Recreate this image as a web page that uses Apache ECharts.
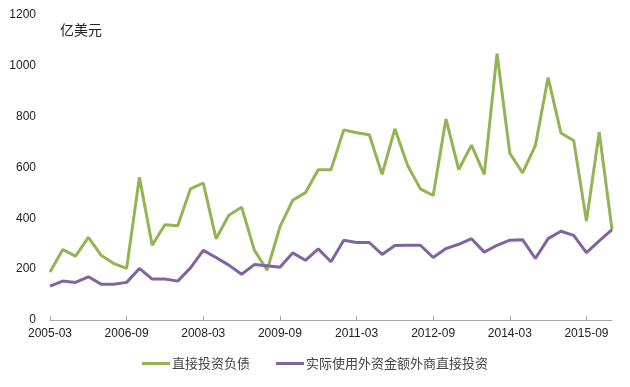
<!DOCTYPE html>
<html>
<head>
<meta charset="utf-8">
<script src="https://cdn.jsdelivr.net/npm/echarts@6/dist/echarts.min.js"></script>
<style>html,body{margin:0;padding:0;background:#fff}#c{width:630px;height:387px}</style>
</head>
<body>
<div id="c"></div>
<script>
var categories = (function(){var a=[];for(var y=2005;y<=2016;y++){for(var m of ['03','06','09','12']){a.push(y+'-'+m);}}return a.slice(0,45);})();
var fdiLiabilities = [189,277,251,325,255,222,203,562,294,375,371,516,539,320,412,444,275,196,366,471,501,591,591,748,737,729,573,752,608,516,490,791,592,688,573,1048,656,579,686,954,736,706,389,739,356];
var actualFdi = [133,153,148,170,141,141,148,203,161,161,153,205,274,246,216,180,218,213,208,264,235,280,229,314,305,305,258,293,294,294,246,281,298,320,267,294,314,316,242,320,349,333,265,311,356];
var yTicks = [0,200,400,600,800,1000,1200];
var seriesNames = ['直接投资负债','实际使用外资金额外商直接投资'];
var unitLabel = '亿美元';

var chart = echarts.init(document.getElementById('c'), null, {renderer:'canvas'});
chart.setOption({
  animation:false,
  backgroundColor:'#fff',
  textStyle:{fontFamily:'"Liberation Sans","Noto Sans CJK SC",sans-serif'},
  grid:{left:50,right:18,top:15,bottom:67,containLabel:false},
  graphic:[{type:'text',left:60,top:23,style:{text:unitLabel,fontSize:14,fill:'#222',fontFamily:'"Noto Sans CJK SC",sans-serif'}}],
  legend:{
    bottom:12,left:'center',itemWidth:28,itemHeight:3,itemGap:26,icon:'rect',
    textStyle:{fontSize:13,color:'#444',fontFamily:'"Noto Sans CJK SC",sans-serif',padding:[0,0,0,-3]},
    data:seriesNames
  },
  xAxis:{
    type:'category',data:categories,boundaryGap:false,
    axisLine:{lineStyle:{color:'#A6A6A6',width:1}},
    axisTick:{inside:true,length:4,interval:5,lineStyle:{color:'#A6A6A6'}},
    axisLabel:{interval:5,color:'#222',fontSize:12,margin:8},
    splitLine:{show:false}
  },
  yAxis:{
    type:'value',min:yTicks[0],max:yTicks[yTicks.length-1],interval:200,
    axisLine:{show:false},axisTick:{show:false},splitLine:{show:false},
    axisLabel:{color:'#222',fontSize:12,margin:14,formatter:function(v){return String(v);}}
  },
  series:[
    {name:seriesNames[0],type:'line',data:fdiLiabilities,showSymbol:false,symbol:'none',lineStyle:{width:3,color:'#92B554'},itemStyle:{color:'#92B554'}},
    {name:seriesNames[1],type:'line',data:actualFdi,showSymbol:false,symbol:'none',lineStyle:{width:3,color:'#8064A2'},itemStyle:{color:'#8064A2'}}
  ]
});
</script>
</body>
</html>
